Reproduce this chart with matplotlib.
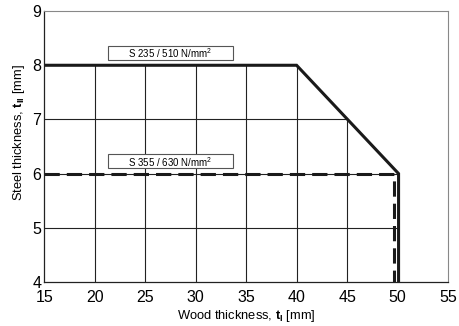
import matplotlib
matplotlib.use("Agg")
import matplotlib.pyplot as plt
from matplotlib.patches import Polygon, Rectangle

plt.rcParams['font.family'] = ['Liberation Sans', 'DejaVu Sans']
plt.rcParams['mathtext.fontset'] = 'custom'
plt.rcParams['mathtext.rm'] = 'Liberation Sans'
plt.rcParams['mathtext.bf'] = 'Liberation Sans:bold'

# Datos
wood_s235 = [15, 40, 50.1, 50.1]
steel_s235 = [8, 8, 6, 4]
wood_s355 = [15, 49.6, 49.6]
steel_s355 = [6, 6, 4]
label_s235 = "S 235 / 510 N/mm$^2$"
label_s355 = "S 355 / 630 N/mm$^2$"
x_ticks = [15, 20, 25, 30, 35, 40, 45, 50, 55]
y_ticks = [4, 5, 6, 7, 8, 9]
grid_x = [20, 25, 30, 35, 40, 45]
grid_y = [5, 6, 7, 8]

fig = plt.figure(figsize=(4.6, 3.26), dpi=100)
ax = fig.add_axes([0.096, 0.135, 0.878, 0.831])
ax.set_xlim(15, 55)
ax.set_ylim(4, 9)

# Rejilla solo dentro de la zona admisible
zona = Polygon(list(zip(wood_s235, steel_s235)) + [(15, 4)], closed=True,
               transform=ax.transData, facecolor='none', edgecolor='none')
ax.add_patch(zona)
v = ax.vlines(grid_x, 4, 9, colors='#222222', linewidth=0.8)
h = ax.hlines(grid_y, 15, 55, colors='#222222', linewidth=0.8)
v.set_clip_path(zona)
h.set_clip_path(zona)

# Curvas
ax.plot(wood_s235, steel_s235, color='#1a1a1a', linewidth=2.2, solid_joinstyle='miter')
ax.plot(wood_s355, steel_s355, color='#1a1a1a', linewidth=2.2, linestyle=(0, (5, 2.3)))

# Etiquetas en caja
for x0, y0, txt in [(21.3, 8.1, label_s235), (21.3, 6.1, label_s355)]:
    ax.add_patch(Rectangle((x0, y0), 12.4, 0.26, facecolor='white',
                           edgecolor='#555555', linewidth=0.8, zorder=3))
    ax.text(x0 + 6.2, y0 + 0.12, txt, ha='center', va='center', fontsize=7, zorder=4)

ax.set_xticks(x_ticks)
ax.set_yticks(y_ticks)
ax.tick_params(length=0, labelsize=11.5)
ax.tick_params(axis='x', pad=6)
ax.tick_params(axis='y', pad=2)
for s in ['top', 'right']:
    ax.spines[s].set_color('#888888')
    ax.spines[s].set_linewidth(0.8)
for s in ['left', 'bottom']:
    ax.spines[s].set_color('#222222')
    ax.spines[s].set_linewidth(0.9)

ax.set_xlabel(r"Wood thickness, $\mathbf{t}_\mathbf{I}$ [mm]", fontsize=9.3, labelpad=2)
ax.set_ylabel(r"Steel thickness, $\mathbf{t}_\mathbf{II}$ [mm]", fontsize=9.3)
ax.yaxis.set_label_coords(-0.042, 0.553)

fig.savefig("out.png", dpi=100)
